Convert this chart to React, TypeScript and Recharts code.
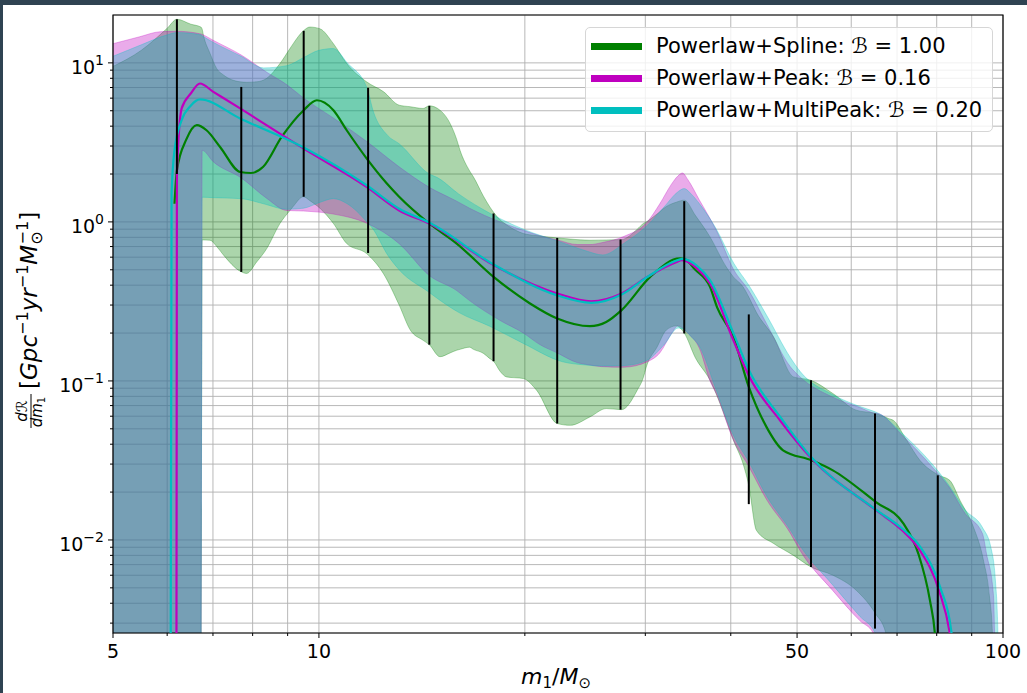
import React from 'react';
import {
  ComposedChart, Area, Line, XAxis, YAxis, CartesianGrid,
  ReferenceLine, ReferenceArea, Legend,
} from 'recharts';

// ---------- Powerlaw+Spline (green) ----------
const splineBandMass = [5, 5.5, 6.0, 6.2, 6.5, 6.72, 6.75, 6.78, 6.93, 7.09, 7.25, 7.67, 7.84, 8.11, 8.39, 8.77, 9.07, 9.17, 9.49, 9.7, 10.03, 10.5, 10.98, 11.74, 12.42, 13.1, 13.6, 14.2, 14.5, 15.03, 15.55, 15.9, 16.08, 16.6, 16.82, 17.4, 17.78, 18.0, 18.4, 18.8, 19.9, 20.8, 22.3, 23.3, 24.9, 26.3, 27.7, 29.2, 29.8, 30.1, 31.2, 32.2, 33.3, 34.2, 35.5, 37.3, 39.4, 40.35, 41.7, 42.5, 43.6, 46.2, 49.4, 52.4, 56.4, 61.0, 65.1, 67.4, 68, 69.1, 72.3, 75.6, 80.6, 83.6, 86.5, 90.5, 93.6, 95.5, 96.5, 97];
const splineBandLow = [0.001, 0.001, 0.001, 0.001, 0.001, 0.001, 0.77, 0.77, 0.767, 0.70, 0.62, 0.49, 0.474, 0.56, 0.68, 0.977, 1.18, 1.25, 1.44, 1.36, 1.22, 0.977, 0.731, 0.632, 0.474, 0.30, 0.209, 0.18, 0.169, 0.142, 0.15, 0.156, 0.158, 0.163, 0.158, 0.149, 0.138, 0.133, 0.115, 0.106, 0.1035, 0.0875, 0.054, 0.0526, 0.0594, 0.067, 0.066, 0.0875, 0.105, 0.1225, 0.163, 0.209, 0.222, 0.2, 0.14, 0.101, 0.0566, 0.0424, 0.030, 0.022, 0.0115, 0.0095, 0.008, 0.00676, 0.006, 0.00483, 0.00344, 0.0026, 0.001, 0.001, 0.001, 0.001, 0.001, 0.001, 0.001, 0.001, 0.001, 0.001, 0.001, 0.001];
const splineBandHigh = [9.5, 12, 16.5, 18.8, 17.5, 16.8, 16.3, 14.9, 11.5, 9.2, 8.4, 7.6, 7.55, 7.6, 8.0, 9.9, 12.3, 13.2, 15.9, 16.8, 16.4, 13.2, 9.9, 7.6, 6.6, 5.42, 5.3, 5.17, 5.37, 5.04, 4.16, 3.3, 2.82, 2.1, 1.92, 1.45, 1.24, 1.15, 1.03, 0.96, 0.845, 0.82, 0.793, 0.78, 0.767, 0.77, 0.775, 0.9, 0.977, 1.0, 1.12, 1.25, 1.33, 1.37, 1.1, 0.805, 0.52, 0.451, 0.39, 0.337, 0.27, 0.189, 0.106, 0.101, 0.0834, 0.0655, 0.0624, 0.059, 0.058, 0.0566, 0.0424, 0.0317, 0.0255, 0.0237, 0.0178, 0.0121, 0.0075, 0.0045, 0.0026, 0.001];
const splineLineMass = [6.15, 6.2, 6.4, 6.63, 6.85, 7.17, 7.67, 7.95, 8.29, 8.82, 9.5, 9.93, 10.5, 10.98, 11.74, 12.56, 13.1, 14.5, 15.9, 18.0, 20.35, 22.3, 24.9, 26.3, 27.7, 30.5, 33.7, 34.2, 35.5, 37.3, 38.2, 40.35, 42.5, 45.1, 47.7, 52.5, 56.4, 65.2, 71.5, 75.2, 78.2, 79.5, 80.2];
const splineMedian = [1.3, 2.11, 3.3, 4.06, 3.77, 2.96, 2.06, 2.03, 2.22, 3.42, 5.04, 5.82, 5.04, 3.77, 2.51, 1.75, 1.44, 0.977, 0.731, 0.451, 0.307, 0.247, 0.221, 0.235, 0.279, 0.451, 0.589, 0.585, 0.5, 0.39, 0.29, 0.189, 0.0917, 0.0514, 0.0366, 0.0317, 0.0274, 0.0173, 0.0127, 0.0082, 0.00417, 0.0026, 0.0015];

// ---------- Powerlaw+Peak (magenta) ----------
const peakBandMass = [5, 5.47, 5.86, 6.2, 6.72, 6.75, 7.0, 7.7, 8.4, 8.97, 9.5, 10.5, 11.75, 13.1, 14.5, 15.9, 16.6, 18.4, 19.9, 21.0, 22.3, 23.9, 24.9, 25.9, 27.9, 30.2, 31.5, 32.8, 33.5, 34.0, 34.6, 36.0, 37.3, 38.1, 40.4, 42.5, 45.1, 48.9, 50.5, 56.4, 61.8, 64.6, 66, 70.8, 78.8, 83.4, 88, 93.3, 94.6, 96.8, 97.2, 97.5];
const peakBandLow = [0.001, 0.001, 0.001, 0.001, 0.001, 2.82, 2.4, 1.89, 1.4, 1.18, 1.17, 1.12, 0.98, 0.73, 0.46, 0.37, 0.32, 0.24, 0.2, 0.17, 0.15, 0.13, 0.126, 0.123, 0.122, 0.132, 0.15, 0.2, 0.222, 0.215, 0.2, 0.16, 0.1, 0.083, 0.042, 0.029, 0.018, 0.011, 0.0086, 0.0048, 0.0031, 0.0026, 0.001, 0.001, 0.001, 0.001, 0.001, 0.001, 0.001, 0.001, 0.001, 0.001];
const peakBandHigh = [13.2, 14.6, 15.7, 15.8, 15.2, 15.1, 13.9, 11.2, 8.7, 7.3, 6.0, 4.5, 3.2, 2.22, 1.65, 1.35, 1.22, 1.0, 0.885, 0.82, 0.77, 0.72, 0.72, 0.74, 0.81, 1.0, 1.3, 1.74, 1.95, 2.03, 1.85, 1.37, 1.05, 0.885, 0.5, 0.37, 0.23, 0.1225, 0.106, 0.079, 0.068, 0.063, 0.062, 0.0467, 0.0288, 0.0215, 0.0147, 0.011, 0.0082, 0.0046, 0.0026, 0.001];
const peakLineMass = [6.19, 6.2, 6.3, 6.5, 6.7, 7.0, 7.67, 9.5, 11.74, 13.1, 14.5, 18.0, 22.3, 25.0, 27.7, 30.2, 33.35, 33.9, 35.7, 37.3, 40.35, 42.6, 47.2, 52.5, 65.2, 71.2, 75.6, 80.6, 83.6, 85];
const peakMedian = [0.001, 2.0, 5.17, 6.44, 7.42, 6.6, 5.17, 2.89, 1.66, 1.18, 0.977, 0.535, 0.355, 0.317, 0.355, 0.451, 0.56, 0.574, 0.51, 0.41, 0.18, 0.106, 0.0566, 0.0325, 0.0154, 0.0115, 0.0086, 0.00483, 0.0026, 0.0015];

// ---------- Powerlaw+MultiPeak (cyan) ----------
const multiBandMass = [5, 5.5, 6, 6.2, 6.72, 6.75, 7.0, 7.7, 8.3, 8.97, 9.5, 10.0, 10.5, 11.0, 11.75, 12.0, 12.6, 13.1, 14.5, 14.9, 16, 17.8, 19.9, 22.7, 24.5, 26, 28, 30.2, 32, 33.5, 34.2, 35, 36, 38, 40.4, 42.5, 45.1, 48.9, 50.5, 56.4, 61.8, 65, 66.5, 70.8, 78.8, 83.4, 88, 93.3, 96, 97.5, 98.3, 98.6];
const multiBandLow = [0.001, 0.001, 0.001, 0.001, 0.001, 1.43, 1.42, 1.40, 1.3, 1.2, 1.22, 1.32, 1.4, 1.3, 1.0, 0.9, 0.62, 0.5, 0.36, 0.33, 0.27, 0.22, 0.172, 0.132, 0.126, 0.124, 0.125, 0.135, 0.17, 0.215, 0.21, 0.19, 0.165, 0.09, 0.045, 0.031, 0.019, 0.0115, 0.0092, 0.0052, 0.0033, 0.0026, 0.001, 0.001, 0.001, 0.001, 0.001, 0.001, 0.001, 0.001, 0.001, 0.001];
const multiBandHigh = [11, 13, 15, 15.5, 15, 14.8, 13.5, 11, 9.3, 9.6, 10.8, 12.0, 12.3, 10.0, 7.0, 5.0, 3.5, 3.1, 2.0, 1.9, 1.5, 1.13, 0.9, 0.74, 0.66, 0.62, 0.74, 0.95, 1.25, 1.55, 1.62, 1.5, 1.3, 0.92, 0.55, 0.40, 0.26, 0.14, 0.115, 0.082, 0.069, 0.064, 0.061, 0.048, 0.03, 0.022, 0.0155, 0.012, 0.009, 0.0055, 0.0026, 0.001];
const multiLineMass = [6.07, 6.09, 6.15, 6.3, 6.5, 6.7, 7.67, 9.5, 11.74, 13.1, 14.5, 18.0, 22.3, 25.0, 27.7, 30.2, 33.1, 34.0, 35.7, 37.3, 40.35, 42.6, 47.3, 52.5, 65.2, 71.2, 75.9, 81, 84, 85];
const multiMedian = [0.001, 1.5, 2.82, 4.36, 5.4, 5.89, 4.47, 2.94, 1.70, 1.21, 0.99, 0.54, 0.345, 0.31, 0.35, 0.45, 0.565, 0.585, 0.53, 0.43, 0.2, 0.115, 0.059, 0.033, 0.0155, 0.0118, 0.0089, 0.005, 0.0027, 0.0015];

// ---------- black error bars ----------
const barMass = [6.2, 7.7, 9.5, 11.8, 14.5, 18.0, 22.3, 27.6, 34.2, 42.5, 52.4, 65.0, 80.3];
const barLow = [2.0, 0.485, 1.44, 0.638, 0.169, 0.133, 0.054, 0.066, 0.199, 0.0168, 0.00676, 0.00277, 0.001];
const barHigh = [18.8, 7.06, 15.9, 6.97, 5.37, 1.13, 0.793, 0.775, 1.35, 0.262, 0.101, 0.0624, 0.0255];

// ---------- axes ----------
const xTicks = [5, 6, 7, 8, 9, 10, 20, 30, 40, 50, 60, 70, 80, 90, 100];
const xLabelTicks = [5, 10, 50, 100];
const xLabelTexts = ['5', '10', '50', '100'];
const yTicks = [0.003, 0.004, 0.005, 0.006, 0.007, 0.008, 0.009, 0.01, 0.02, 0.03, 0.04, 0.05, 0.06, 0.07, 0.08, 0.09, 0.1, 0.2, 0.3, 0.4, 0.5, 0.6, 0.7, 0.8, 0.9, 1, 2, 3, 4, 5, 6, 7, 8, 9, 10];
const yMajorTicks = [0.01, 0.1, 1, 10];
const yMajorExponents = ['\u22122', '\u22121', '0', '1'];

const legendNames = ['Powerlaw+Spline', 'Powerlaw+Peak', 'Powerlaw+MultiPeak'];
const legendFactors = ['1.00', '0.16', '0.20'];
const lineColors = ['#008000', '#bf00bf', '#00bfbf'];

const FONT = "'DejaVu Sans', sans-serif";

const band = (mass: number[], lo: number[], hi: number[]) => mass.map((m, i) => ({ m, r: [lo[i], hi[i]] }));
const line = (mass: number[], v: number[]) => mass.map((m, i) => ({ m, v: v[i] }));

const splineBand = band(splineBandMass, splineBandLow, splineBandHigh);
const peakBand = band(peakBandMass, peakBandLow, peakBandHigh);
const multiBand = band(multiBandMass, multiBandLow, multiBandHigh);
const splineLine = line(splineLineMass, splineMedian);
const peakLine = line(peakLineMass, peakMedian);
const multiLine = line(multiLineMass, multiMedian);

const close = (a: number, b: number) => Math.abs(a - b) / b < 1e-6;

const YTick = (props: any) => {
  const { x, y, payload } = props;
  const v = payload.value;
  const idx = yMajorTicks.findIndex((t) => close(v, t));
  const major = idx >= 0;
  return (
    <g>
      <line x1={x} x2={x - (major ? 5 : 3)} y1={y} y2={y} stroke="#000" strokeWidth={1} />
      {major && (
        <text x={x - 9} y={y + 11} textAnchor="end" fontFamily={FONT} fontSize={19} fill="#000">
          10<tspan dy={-9} fontSize={14}>{yMajorExponents[idx]}</tspan>
        </text>
      )}
    </g>
  );
};

const XTick = (props: any) => {
  const { x, y, payload } = props;
  const v = payload.value;
  const idx = xLabelTicks.findIndex((t) => close(v, t));
  const major = idx >= 0;
  return (
    <g>
      <line x1={x} x2={x} y1={y} y2={y + (major ? 5 : 3)} stroke="#000" strokeWidth={1} />
      {major && (
        <text x={x} y={y + 25} textAnchor="middle" fontFamily={FONT} fontSize={19} fill="#000">
          {xLabelTexts[idx]}
        </text>
      )}
    </g>
  );
};

const YLabel = () => (
  <g transform="translate(35, 425) rotate(-90)" fontFamily={FONT} fill="#000">
    <text x={19} y={-11} textAnchor="middle" fontSize={15} fontStyle="italic">d{'\u211B'}</text>
    <line x1={2} x2={36} y1={-7} y2={-7} stroke="#000" strokeWidth={1} />
    <text x={18} y={4} textAnchor="middle" fontSize={15} fontStyle="italic">
      dm<tspan dy={3} fontSize={10} fontStyle="normal">1</tspan>
    </text>
    <text x={41} y={-1} fontSize={23}>
      [<tspan fontStyle="italic">Gpc</tspan>
      <tspan dy={-9} fontSize={16}>{'\u22121'}</tspan>
      <tspan dy={9} fontStyle="italic">yr</tspan>
      <tspan dy={-9} fontSize={16}>{'\u22121'}</tspan>
      <tspan dy={9} fontStyle="italic">M</tspan>
      <tspan dy={5} fontSize={16}>{'\u2299'}</tspan>
      <tspan dy={-14} dx={-13} fontSize={16}>{'\u22121'}</tspan>
      <tspan dy={9}>]</tspan>
    </text>
  </g>
);

const XLabel = () => (
  <text x={553} y={679} textAnchor="middle" fontFamily={FONT} fontSize={22} fill="#000">
    <tspan fontStyle="italic">m</tspan>
    <tspan dy={4} fontSize={15}>1</tspan>
    <tspan dy={-4}>/</tspan>
    <tspan fontStyle="italic">M</tspan>
    <tspan dy={4} fontSize={15}>{'\u2299'}</tspan>
  </text>
);

const LegendBox = () => (
  <div
    style={{
      position: 'relative', width: 408, height: 105, boxSizing: 'border-box',
      border: '1px solid #d6d6d6', borderRadius: 5, background: 'rgba(255,255,255,0.8)',
      fontFamily: FONT, fontSize: 21, color: '#000',
    }}
  >
    {legendNames.map((name, i) => (
      <div key={name} style={{ position: 'absolute', left: 5, top: 18 + 32 * i - 15, height: 30, display: 'flex', alignItems: 'center', whiteSpace: 'nowrap' }}>
        <div style={{ width: 51, height: 7, background: lineColors[i], marginRight: 14 }} />
        <span>
          {name}: <span style={{ fontStyle: 'italic' }}>{'\u212C'}</span> = {legendFactors[i]}
        </span>
      </div>
    ))}
  </div>
);

export default function App() {
  return (
    <div style={{ position: 'absolute', left: 0, top: 0, width: 1027, height: 693, background: '#2f4352' }}>
      <div style={{ position: 'absolute', left: 3, top: 5, width: 1024, height: 688, background: '#ffffff' }}>
        <ComposedChart width={1024} height={688} margin={{ top: 10, right: 24, bottom: 30, left: 30 }}>
          <XAxis
            dataKey="m" type="number" scale="log" domain={[5, 100]} allowDataOverflow
            ticks={xTicks} interval={0} tick={<XTick />} tickLine={false} axisLine={false}
            tickSize={0} tickMargin={0} height={30} label={<XLabel />}
          />
          <YAxis
            type="number" scale="log" domain={[0.0026, 20]} allowDataOverflow
            ticks={yTicks} interval={0} tick={<YTick />} tickLine={false} axisLine={false}
            tickSize={0} tickMargin={0} width={80} label={<YLabel />}
          />
          <CartesianGrid stroke="#b0b0b0" strokeWidth={0.9} />
          <Area data={splineBand} dataKey="r" type="monotone" fill="#008000" fillOpacity={0.33} stroke="#008000" strokeOpacity={0.3} strokeWidth={1} isAnimationActive={false} />
          <Area data={peakBand} dataKey="r" type="monotone" fill="#bf00bf" fillOpacity={0.33} stroke="#bf00bf" strokeOpacity={0.3} strokeWidth={1} isAnimationActive={false} />
          <Area data={multiBand} dataKey="r" type="monotone" fill="#00bfbf" fillOpacity={0.33} stroke="#00bfbf" strokeOpacity={0.3} strokeWidth={1} isAnimationActive={false} />
          <Line data={splineLine} dataKey="v" type="monotone" stroke={lineColors[0]} strokeWidth={2.2} dot={false} isAnimationActive={false} />
          <Line data={peakLine} dataKey="v" type="monotone" stroke={lineColors[1]} strokeWidth={2.2} dot={false} isAnimationActive={false} />
          <Line data={multiLine} dataKey="v" type="monotone" stroke={lineColors[2]} strokeWidth={2.2} dot={false} isAnimationActive={false} />
          {barMass.map((m, i) => (
            <ReferenceLine key={m} segment={[{ x: m, y: barLow[i] }, { x: m, y: barHigh[i] }]} stroke="#000" strokeWidth={2} ifOverflow="hidden" />
          ))}
          <ReferenceArea x1={5} x2={100} y1={0.0026} y2={20} fill="none" stroke="#000" strokeWidth={1.2} ifOverflow="visible" />
          <Legend layout="vertical" align="center" verticalAlign="middle" wrapperStyle={{ left: 582, top: 22, width: 408, height: 105 }} content={() => <LegendBox />} />
        </ComposedChart>
      </div>
    </div>
  );
}
